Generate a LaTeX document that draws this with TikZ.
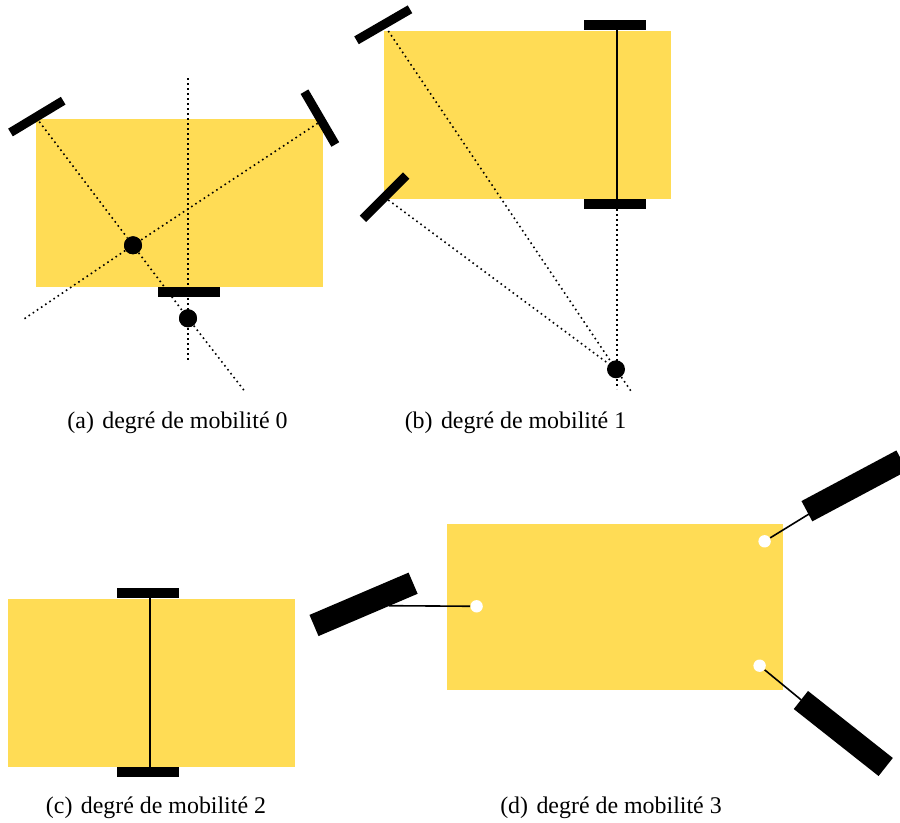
\documentclass[tikz,border=0pt]{standalone}
\usepackage{fontspec}
\setmainfont{Liberation Serif}
\usepackage{xcolor}
\definecolor{chassisYellow}{RGB}{255,220,85}
\tikzset{
	chassis/.style={fill=chassisYellow, draw=none},
	wheelbar/.style={line width=4.5pt, black},
	wheelflat/.style={line width=5pt, black},
	wheelbig/.style={line width=11.5pt, black},
	axle/.style={line width=.8pt, black},
	rayline/.style={dash pattern=on .8pt off 1.7pt, line width=.8pt, black},
	pivot/.style={circle, fill=black, inner sep=0pt, minimum size=9pt},
	joint/.style={circle, fill=white, inner sep=0pt, minimum size=6.2pt},
	legend/.style={inner sep=0pt, anchor=base, font=\fontsize{11.95}{14}\selectfont}
}
\newcommand{\mobcaption}[2]{(#1)\hspace{4.2pt}degré de mobilité #2}
\begin{document}
\begin{tikzpicture}[x=.5pt, y=-.5pt]
	\useasboundingbox (0,0) rectangle (900,823);

	% (a)
	\fill[chassis] (36,119) rectangle (323,287);
	\node[pivot] (pivotA) at (133,245.3) {};
	\node[pivot] (pivotB) at (188,318.3) {};
	\coordinate (rayAend) at (244.3,390.7);
	\coordinate (rayBend) at (24,319);
	\draw[rayline] (39.3,121.7) -- (pivotA) -- (pivotB) -- (rayAend);
	\draw[rayline] (317.7,123.3) -- (pivotA) -- (rayBend);
	\draw[rayline] (187.7,78.3) -- (187.7,361.7);
	\draw[wheelbar] (10.5,132.5) -- (63.2,100.7);
	\draw[wheelbar] (304.5,91.7) -- (335.3,144.5);
	\draw[wheelflat] (158,292) -- (220,292);
	\node[pivot] at (pivotA) {};
	\node[pivot] at (pivotB) {};
	\node[legend] (captionA) at (177.5,428.5) {\mobcaption{a}{0}};

	% (b)
	\fill[chassis] (384,31) rectangle (671,199);
	\node[pivot] (pivotC) at (616,369.3) {};
	\coordinate (wheelTop) at (616.7,25);
	\coordinate (wheelLow) at (616.7,204);
	\coordinate (rayCend) at (630.7,390.7);
	\coordinate (rayDend) at (616.7,389);
	\draw[rayline] (388.3,31) -- (pivotC) -- (rayCend);
	\draw[rayline] (388.3,200) -- (pivotC);
	\draw[rayline] (wheelLow) -- (rayDend);
	\draw[axle] (wheelTop) -- (wheelLow);
	\draw[wheelbar] (356.5,40.3) -- (410,9.3);
	\draw[wheelbar] (363,218.8) -- (406.2,175.5);
	\draw[wheelflat] (584,25) -- (646,25);
	\draw[wheelflat] (584,204) -- (646,204);
	\node[legend] (captionB) at (515.5,428.5) {\mobcaption{b}{1}};

	% (c)
	\fill[chassis] (8,599) rectangle (295,767);
	\coordinate (wheelUp) at (150,593);
	\coordinate (wheelDown) at (150,772);
	\draw[axle] (wheelUp) -- (wheelDown);
	\draw[wheelflat] (117,593) -- (179,593);
	\draw[wheelflat] (117,772) -- (179,772);
	\node[legend] (captionC) at (156,813) {\mobcaption{c}{2}};

	% (d)
	\fill[chassis] (447,524) rectangle (783,690);
	\node[joint] (jointL) at (476.6,606.3) {};
	\node[joint] (jointT) at (764.6,541.3) {};
	\node[joint] (jointR) at (759.6,665.7) {};
	\coordinate (hubL) at (388.8,605.7);
	\coordinate (hubT) at (809,514);
	\coordinate (hubR) at (801.3,700);
	\draw[axle] (jointL) -- (hubL);
	\draw[axle] (jointT) -- (hubT);
	\draw[axle] (jointR) -- (hubR);
	\draw[wheelbig] (314,625.5) -- (413.1,583.2);
	\draw[wheelbig] (806.9,511.2) -- (901.8,460.6);
	\draw[wheelbig] (800.9,700) -- (885.7,767);
	\node[legend] (captionD) at (611,813) {\mobcaption{d}{3}};
\end{tikzpicture}
\end{document}
